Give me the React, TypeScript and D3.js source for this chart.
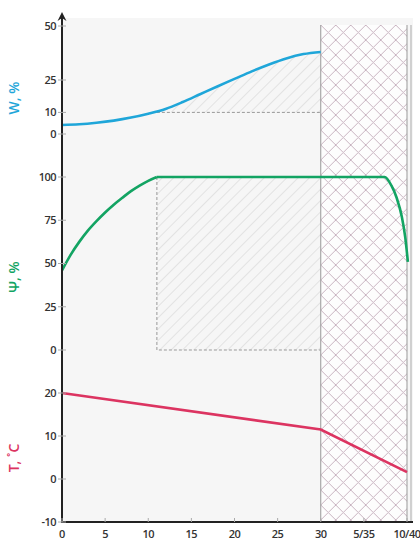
import React from "react";
import * as d3 from "d3";

const xTicks = [0, 5, 10, 15, 20, 25, 30, 35, 40];
const xTickLabels = ["0", "5", "10", "15", "20", "25", "30", "5/35", "10/40"];
const wTicks = [0, 10, 25, 50];
const psiTicks = [0, 25, 50, 75, 100];
const tTicks = [-10, 0, 10, 20];

const wX = [0, 2, 4, 6, 8, 10, 12, 14, 16, 18, 20, 22, 24, 26, 28, 30];
const wY = [4.2, 4.5, 5.2, 6.2, 7.6, 9.4, 11.6, 14.8, 18.4, 22, 25.5, 29, 32.2, 35, 37, 38];

const psiX = [0, 1, 2, 3, 4, 5, 6, 7, 8, 9, 10, 11, 37.4, 38.2, 38.8, 39.4, 39.8, 40.1];
const psiY = [46, 55, 62.5, 69, 74.5, 79.5, 84, 88, 91.8, 95, 97.8, 100, 100, 95, 88, 77, 65, 51];

const tX = [0, 30, 40];
const tY = [20, 11.5, 1.6];

const zoneStart = 11;
const zoneEnd = 30;
const wallEnd = 40;
const wLimit = 10;

export default function App() {
  const W = 420, H = 541;
  const x = d3.scaleLinear().domain([0, 40]).range([62, 407]);
  const yW = d3.scaleLinear().domain([0, 50]).range([134, 26]);
  const yP = d3.scaleLinear().domain([0, 100]).range([350, 177]);
  const yT = d3.scaleLinear().domain([-10, 20]).range([522, 393]);

  const wData = wX.map((v, i) => [v, wY[i]] as [number, number]);
  const pData = psiX.map((v, i) => [v, psiY[i]] as [number, number]);
  const tData = tX.map((v, i) => [v, tY[i]] as [number, number]);

  const wLine = d3.line<[number, number]>().x(d => x(d[0])).y(d => yW(d[1])).curve(d3.curveMonotoneX)(wData)!;
  const wArea = d3.area<[number, number]>().x(d => x(d[0])).y0(yW(wLimit)).y1(d => yW(d[1])).curve(d3.curveMonotoneX)(wData)!;
  const pLineA = d3.line<[number, number]>().x(d => x(d[0])).y(d => yP(d[1])).curve(d3.curveMonotoneX)(pData.slice(0, 12))!;
  const pLineB = d3.line<[number, number]>().x(d => x(d[0])).y(d => yP(d[1])).curve(d3.curveMonotoneX)(pData.slice(11))!;
  const tLine = d3.line<[number, number]>().x(d => x(d[0])).y(d => yT(d[1]))(tData)!;

  const axisX = x(0);
  const baseY = yT(-10);
  const topY = 25;
  const font = "'Open Sans', 'Liberation Sans', sans-serif";
  const blue = "#1fa6d9";
  const green = "#13a463";
  const red = "#dc3461";

  const yTick = (v: number, s: d3.ScaleLinear<number, number>, key: string) => (
    <g key={key}>
      <line x1={axisX - 4} x2={axisX + 4} y1={s(v)} y2={s(v)} stroke="#aaa" strokeWidth={1} />
      <text x={axisX - 6} y={s(v)} dy="0.35em" textAnchor="end" fontSize={11} fontWeight={600} fill="#333" letterSpacing={-0.5}>{v}</text>
    </g>
  );

  return (
    <svg width={W} height={H} style={{ position: "absolute", left: 0, top: 0, background: "#fff" }} fontFamily={font}>
      <defs>
        <pattern id="hatch" width="8" height="8" patternUnits="userSpaceOnUse" patternTransform="rotate(45)">
          <line x1="0" y1="0" x2="0" y2="8" stroke="#cfcfcf" strokeWidth="1" />
        </pattern>
        <pattern id="cross" width="15" height="15" patternUnits="userSpaceOnUse" x={x(zoneEnd)} y={topY}>
          <path d="M0,0 L15,15 M15,0 L0,15" stroke="#c9b3c1" strokeWidth="1" fill="none" />
        </pattern>
        <clipPath id="wclip">
          <rect x={x(zoneStart)} y={0} width={x(zoneEnd) - x(zoneStart)} height={yW(wLimit)} />
        </clipPath>
      </defs>
      <rect x={axisX} y={18} width={413 - axisX} height={baseY - 18} fill="#f6f6f6" />

      {/* hatched zones */}
      <path d={wArea} fill="url(#hatch)" clipPath="url(#wclip)" />
      <rect x={x(zoneStart)} y={yP(100)} width={x(zoneEnd) - x(zoneStart)} height={yP(0) - yP(100)} fill="url(#hatch)" />
      <line x1={x(zoneStart)} x2={x(zoneEnd)} y1={yW(wLimit)} y2={yW(wLimit)} stroke="#999" strokeDasharray="3,2" />
      <path d={`M${x(zoneStart)},${yP(100)} L${x(zoneStart)},${yP(0)} L${x(zoneEnd)},${yP(0)}`} stroke="#999" strokeDasharray="3,2" fill="none" />

      {/* wall crosshatch */}
      <rect x={x(zoneEnd)} y={topY} width={x(wallEnd) - x(zoneEnd)} height={baseY - topY} fill="#fdfdfd" />
      <rect x={x(zoneEnd)} y={topY} width={x(wallEnd) - x(zoneEnd)} height={baseY - topY} fill="url(#cross)" />
      <line x1={x(zoneEnd)} x2={x(zoneEnd)} y1={topY} y2={baseY} stroke="#999" strokeWidth={1} />
      <line x1={x(wallEnd)} x2={x(wallEnd)} y1={topY} y2={baseY} stroke="#999" strokeWidth={1} />
      <line x1={411} x2={411} y1={topY} y2={baseY} stroke="#aaa" strokeWidth={1} />

      {/* curves */}
      <path d={wLine} stroke={blue} strokeWidth={2.6} fill="none" />
      <path d={pLineA} stroke={green} strokeWidth={2.6} fill="none" />
      <path d={pLineB} stroke={green} strokeWidth={2.6} fill="none" />
      <path d={tLine} stroke={red} strokeWidth={2.6} fill="none" />

      {/* axes */}
      <line x1={axisX} x2={413} y1={baseY} y2={baseY} stroke="#222" strokeWidth={2} />
      <line x1={axisX} x2={axisX} y1={baseY + 1} y2={16} stroke="#222" strokeWidth={2} />
      <path d={`M${axisX - 4.5},${21} L${axisX},${12} L${axisX + 4.5},${21} L${axisX},${18} Z`} fill="#222" />

      {wTicks.map(v => yTick(v, yW, "w" + v))}
      {psiTicks.map(v => yTick(v, yP, "p" + v))}
      {tTicks.map(v => yTick(v, yT, "t" + v))}

      {xTicks.map((v, i) => (
        <g key={"x" + v}>
          <line x1={x(v)} x2={x(v)} y1={baseY - 4} y2={baseY} stroke="#aaa" />
          <text x={x(v)} y={538} textAnchor="middle" fontSize={11} fontWeight={600} fill="#333" letterSpacing={-0.5}>{xTickLabels[i]}</text>
        </g>
      ))}

      <text transform={`translate(19,98) rotate(-90)`} textAnchor="middle" fontSize={14} fontWeight={600} fill={blue}>W, %</text>
      <text transform={`translate(19,277) rotate(-90)`} textAnchor="middle" fontSize={14} fontWeight={600} fill={green}>Ψ, %</text>
      <text transform={`translate(19,458) rotate(-90)`} textAnchor="middle" fontSize={14} fontWeight={600} fill={red}>T, ˚C</text>
    </svg>
  );
}
